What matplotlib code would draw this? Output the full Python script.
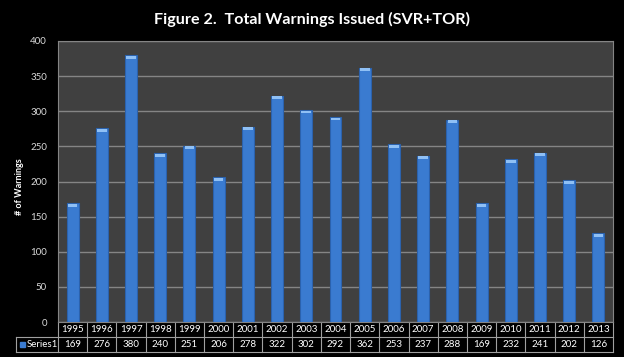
import matplotlib
matplotlib.use("Agg")
import matplotlib.pyplot as plt
import matplotlib.transforms as mtransforms
from matplotlib.patches import Rectangle

years = [1995, 1996, 1997, 1998, 1999, 2000, 2001, 2002, 2003, 2004,
         2005, 2006, 2007, 2008, 2009, 2010, 2011, 2012, 2013]
warnings = [169, 276, 380, 240, 251, 206, 278, 322, 302, 292,
            362, 253, 237, 288, 169, 232, 241, 202, 126]
series_name = "Series1"
yticks = [0, 50, 100, 150, 200, 250, 300, 350, 400]

plt.rcParams['font.family'] = ['Lato', 'DejaVu Sans']

fig = plt.figure(figsize=(6.24, 3.57), dpi=100, facecolor='black')
ax = fig.add_axes([58 / 624, 35 / 357, 555 / 624, 281 / 357])
ax.set_facecolor('#404040')

x = list(range(len(years)))
bars = ax.bar(x, warnings, width=0.41, color='#3a7bd0', edgecolor='#2b62ad',
              linewidth=0.8, zorder=3)
# light cap on the top of each bar
for b in bars:
    ax.add_patch(Rectangle((b.get_x() + 0.04, b.get_height() - 5),
                           b.get_width() - 0.08, 4, color='#8fc0f5',
                           lw=0, zorder=4))

ax.set_xlim(-0.5, len(years) - 0.5)
ax.set_ylim(0, 400)
ax.set_yticks(yticks)
ax.set_yticklabels([str(t) for t in yticks], color='#d9d9d9', fontsize=7)
ax.tick_params(axis='y', length=0, pad=8)
ax.set_xticks([])
ax.grid(axis='y', color='#858585', linewidth=1.0, zorder=0)
for s in ax.spines.values():
    s.set_color('#858585')

fig.text(0.5, 0.945, "Figure 2.  Total Warnings Issued (SVR+TOR)",
         color='white', fontsize=11.6, fontweight='bold', ha='center',
         va='center')
fig.text(19 / 624, 1 - 187 / 357, "# of Warnings", color='white',
         fontsize=6.5, fontweight='bold', rotation=90, ha='center',
         va='center')

# data table under the axes
trans = mtransforms.blended_transform_factory(ax.transData, ax.transAxes)
row_h = 15 / 281
lc = '#a0a0a0'
n = len(years)
kw = dict(transform=trans, color=lc, lw=0.8, clip_on=False)
ax.plot([-0.5, n - 0.5], [-row_h, -row_h], **kw)
ax.plot([-0.5 - 41 / 28.8, n - 0.5], [-2 * row_h, -2 * row_h], **kw)
ax.plot([-0.5 - 41 / 28.8, -0.5], [-row_h, -row_h], **kw)
ax.plot([-0.5 - 41 / 28.8] * 2, [-row_h, -2 * row_h], **kw)
for i in range(n + 1):
    ax.plot([i - 0.5, i - 0.5], [0, -2 * row_h], **kw)
for i in range(n):
    ax.text(i, -row_h / 2, str(years[i]), transform=trans, color='white',
            fontsize=7, ha='center', va='center')
    ax.text(i, -1.5 * row_h, str(warnings[i]), transform=trans,
            color='white', fontsize=7, ha='center', va='center')
ax.text(-0.5 - 41 / 28.8 + 0.35, -1.5 * row_h, series_name, transform=trans,
        color='white', fontsize=7, ha='left', va='center')
ax.add_patch(Rectangle((-0.5 - 41 / 28.8 + 0.12, -1.5 * row_h - 0.008),
                       0.17, 0.016, transform=trans, color='#3a7bd0',
                       clip_on=False))

fig.savefig("out.png", dpi=100, facecolor='black')
